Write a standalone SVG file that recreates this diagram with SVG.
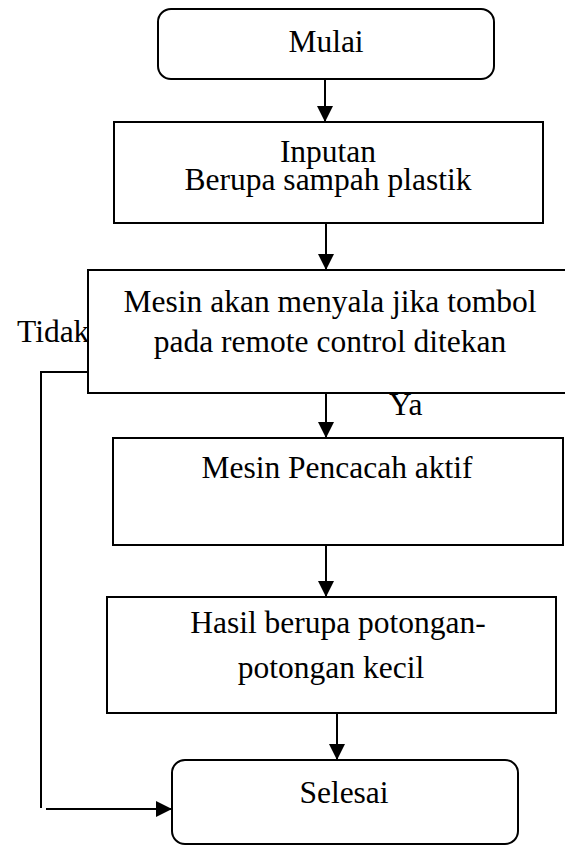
<svg xmlns="http://www.w3.org/2000/svg" width="565" height="846" viewBox="0 0 565 846">
<style>
.box{fill:#fff;stroke:#000;stroke-width:2}
.t{font-family:"Liberation Serif","DejaVu Serif","Noto Serif","Times New Roman",serif;font-size:31.5px;fill:#000}
.m{text-anchor:middle}
.c{fill:none;stroke:#000;stroke-width:2}
</style>
<defs>
<marker id="ah" markerWidth="16" markerHeight="16" viewBox="0 0 16 16" refX="15" refY="8" orient="auto" markerUnits="userSpaceOnUse">
<path d="M0,0 L16,8 L0,16 Z" fill="#000"/>
</marker>
</defs>
<rect width="565" height="846" fill="#fff"/>
<g id="connectors">
<line class="c" x1="325" y1="79" x2="325" y2="121" marker-end="url(#ah)"/>
<line class="c" x1="326" y1="223" x2="326" y2="269" marker-end="url(#ah)"/>
<line class="c" x1="326" y1="393" x2="326" y2="437" marker-end="url(#ah)"/>
<line class="c" x1="326" y1="545" x2="326" y2="596" marker-end="url(#ah)"/>
<line class="c" x1="337" y1="713" x2="337" y2="759" marker-end="url(#ah)"/>
<polyline class="c" points="88,372 41,372 41,808"/>
<line class="c" x1="46" y1="809" x2="171" y2="809" marker-end="url(#ah)"/>
<text class="t" x="17" y="342" font-family="Liberation Serif, serif">Tidak</text>
<text class="t" x="389" y="415" font-family="Liberation Serif, serif">Ya</text>
</g>
<g id="mulai">
<rect class="box" x="158" y="9" width="336" height="70" rx="13"/>
<text class="t m" x="326" y="52" font-family="Liberation Serif, serif">Mulai</text>
</g>
<g id="inputan">
<rect class="box" x="114" y="122" width="429" height="101"/>
<text class="t m" x="328" y="162" font-family="Liberation Serif, serif">Inputan</text>
<text class="t m" x="328" y="190" font-family="Liberation Serif, serif">Berupa sampah plastik</text>
</g>
<g id="keputusan">
<rect class="box" x="88" y="270" width="490" height="123"/>
<text class="t m" x="330" y="312" font-family="Liberation Serif, serif">Mesin akan menyala jika tombol</text>
<text class="t m" x="330" y="352" font-family="Liberation Serif, serif">pada remote control ditekan</text>
</g>
<g id="pencacah">
<rect class="box" x="113" y="438" width="450" height="107"/>
<text class="t m" x="337" y="478" font-family="Liberation Serif, serif">Mesin Pencacah aktif</text>
</g>
<g id="hasil">
<rect class="box" x="107" y="597" width="449" height="116"/>
<text class="t m" x="338" y="633" font-family="Liberation Serif, serif">Hasil berupa potongan-</text>
<text class="t m" x="331" y="678" font-family="Liberation Serif, serif">potongan kecil</text>
</g>
<g id="selesai">
<rect class="box" x="172" y="760" width="346" height="84" rx="13"/>
<text class="t m" x="344" y="803" font-family="Liberation Serif, serif">Selesai</text>
</g>
</svg>
